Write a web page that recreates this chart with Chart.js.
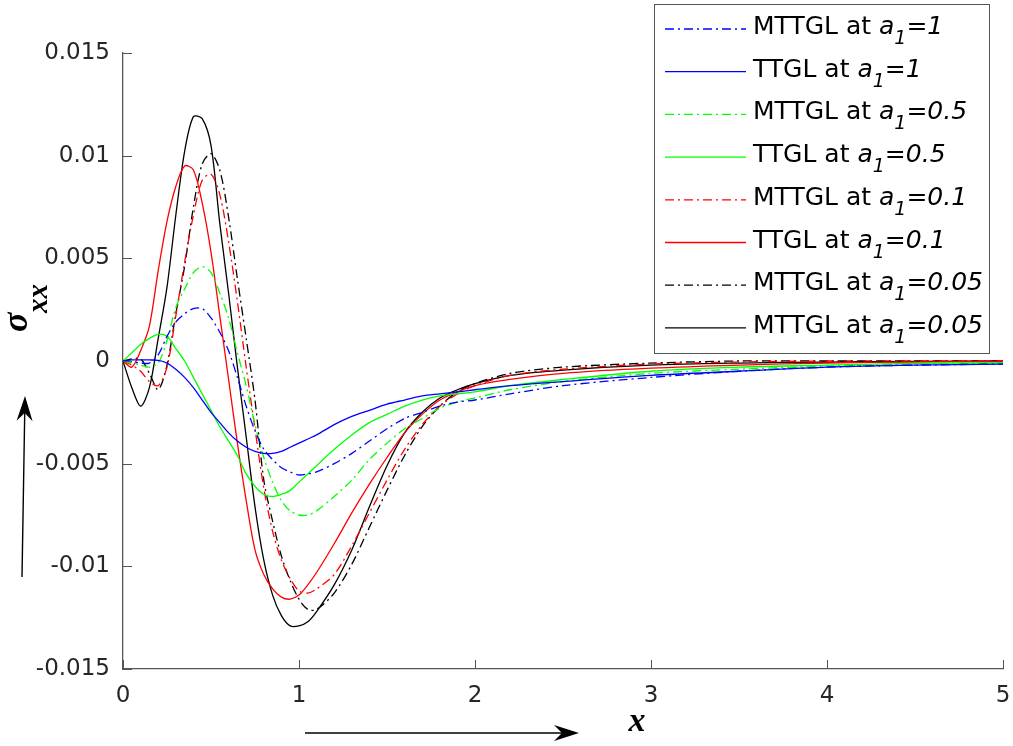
<!DOCTYPE html>
<html>
<head>
<meta charset="utf-8">
<script src="https://cdn.jsdelivr.net/npm/chart.js@4.4.0/dist/chart.umd.min.js"></script>
<style>
  html, body { margin: 0; padding: 0; background: #fff; }
  #wrap { width: 1013px; height: 746px; }
</style>
</head>
<body>
<div id="wrap"><canvas id="sigmaChart" width="1013" height="746"></canvas></div>
<script>
// x positions shared by every curve
const xs = [0, 0.05, 0.1, 0.15, 0.2, 0.25, 0.3, 0.35, 0.4, 0.45, 0.5, 0.55, 0.6, 0.65, 0.7, 0.75,
    0.8, 0.85, 0.9, 0.95, 1.0, 1.05, 1.1, 1.2, 1.3, 1.4, 1.5, 1.6, 1.7, 1.8, 1.9, 2.0, 2.2, 2.5,
    3.0, 3.5, 4.0, 4.5, 5.0];

// sigma_xx
const mttglA1_1 = [0, -0.00003, -0.0001, -0.0001, 0.0003, 0.0012, 0.0019, 0.0023, 0.00255, 0.00255,
    0.0021, 0.0014, 0.0005, -0.0008, -0.0022, -0.0034, -0.0043, -0.0048, -0.0052, -0.0054, -0.00555,
    -0.0055, -0.0054, -0.0050, -0.0045, -0.0039, -0.0033, -0.0028, -0.0025, -0.0022, -0.0020, -0.0019,
    -0.0016, -0.0012, -0.0008, -0.0005, -0.0003, -0.0002, -0.00015];
const ttglA1_1 = [0, 0.00005, 0.00005, 0.00005, 0.00003, -0.0001, -0.0004, -0.0008, -0.0013, -0.0019,
    -0.0025, -0.0030, -0.0035, -0.0039, -0.0042, -0.0044, -0.0045, -0.0045, -0.0044, -0.0042, -0.0040,
    -0.0038, -0.0036, -0.0031, -0.0027, -0.0024, -0.0021, -0.0019, -0.0017, -0.0016, -0.0015, -0.0014,
    -0.0012, -0.0010, -0.0007, -0.0005, -0.0003, -0.0002, -0.00015];
const mttglA1_05 = [0, -0.0001, -0.0002, -0.0003, -0.0001, 0.0010, 0.0026, 0.0035, 0.0043, 0.0046,
    0.0043, 0.0033, 0.0021, 0.0004, -0.0012, -0.0031, -0.0047, -0.0059, -0.0068, -0.0073, -0.0075,
    -0.0075, -0.0073, -0.0066, -0.0058, -0.0048, -0.0040, -0.0033, -0.0028, -0.0023, -0.0020, -0.0018,
    -0.0014, -0.0010, -0.0006, -0.0004, -0.00025, -0.00015, -0.0001];
const ttglA1_05 = [0, 0.0004, 0.0008, 0.0011, 0.0013, 0.0012, 0.0006, 0.0000, -0.0008, -0.0016,
    -0.0024, -0.0032, -0.0039, -0.0046, -0.0055, -0.0061, -0.0065, -0.0066, -0.0065, -0.0063, -0.0059,
    -0.0055, -0.0051, -0.0043, -0.0036, -0.0030, -0.0026, -0.0022, -0.0019, -0.0017, -0.0016, -0.0015,
    -0.0012, -0.0009, -0.0005, -0.0003, -0.0002, -0.00012, -0.00008];
const mttglA1_01 = [0, -0.0002, -0.0005, -0.0010, -0.0012, -0.0003, 0.0022, 0.0048, 0.0071, 0.0088,
    0.0091, 0.0081, 0.0058, 0.0029, -0.0003, -0.0033, -0.0062, -0.0083, -0.0097, -0.0106, -0.0112,
    -0.0113, -0.0111, -0.0104, -0.0090, -0.0074, -0.0058, -0.0043, -0.0031, -0.0022, -0.0016, -0.0012,
    -0.0007, -0.0004, -0.00015, -0.00005, 0, 0, 0];
const ttglA1_01 = [0, -0.0003, 0.0005, 0.0017, 0.0044, 0.0068, 0.0085, 0.0095, 0.0093, 0.0077,
    0.0053, 0.0022, -0.0009, -0.0040, -0.0068, -0.0092, -0.0104, -0.0111, -0.0115, -0.0116, -0.0114,
    -0.0109, -0.0103, -0.0089, -0.0074, -0.0060, -0.0047, -0.0035, -0.0026, -0.0019, -0.0015, -0.0012,
    -0.0009, -0.0006, -0.00035, -0.0002, -0.0001, -0.00005, -0.00002];
const mttglA1_005 = [0, 0.0001, 0.0001, -0.0006, -0.0014, -0.0002, 0.0023, 0.0046, 0.0075, 0.0096,
    0.0101, 0.0093, 0.0070, 0.0040, 0.0011, -0.0019, -0.0058, -0.0078, -0.0095, -0.0107, -0.0116,
    -0.0121, -0.0121, -0.0113, -0.0099, -0.0081, -0.0063, -0.0046, -0.0032, -0.0022, -0.0015, -0.0011,
    -0.0006, -0.0003, -0.0001, 0, 0, 0, 0];
const solidA1_005 = [0, -0.0013, -0.0022, -0.0013, 0.0011, 0.0036, 0.0071, 0.0102, 0.0119, 0.0118,
    0.0105, 0.0067, 0.0033, -0.0003, -0.0037, -0.0071, -0.0097, -0.0114, -0.0124, -0.0129, -0.0129,
    -0.0127, -0.0122, -0.0109, -0.0092, -0.0071, -0.0051, -0.0035, -0.0025, -0.0018, -0.0014, -0.0011,
    -0.0007, -0.00044, -0.0002, -0.0001, -0.00005, -0.00002, 0];

const seriesNames = ['MTTGL', 'TTGL', 'MTTGL', 'TTGL', 'MTTGL', 'TTGL', 'MTTGL', 'MTTGL'];
const seriesA1 = ['1', '1', '0.5', '0.5', '0.1', '0.1', '0.05', '0.05'];
const seriesValues = [mttglA1_1, ttglA1_1, mttglA1_05, ttglA1_05, mttglA1_01, ttglA1_01, mttglA1_005, solidA1_005];
const seriesColors = ['#0000ff', '#0000ff', '#00ff00', '#00ff00', '#ff0000', '#ff0000', '#000000', '#000000'];
const seriesDashed = [true, false, true, false, true, false, true, false];

const xTicks = [0, 1, 2, 3, 4, 5];
const xTickLabels = ['0', '1', '2', '3', '4', '5'];
const yTicks = [-0.015, -0.01, -0.005, 0, 0.005, 0.01, 0.015];
const yTickLabels = ['-0.015', '-0.01', '-0.005', '0', '0.005', '0.01', '0.015'];

const dashDot = [9, 4, 2, 4];
const axisColor = '#555555';
const textColor = '#262626';

function drawArrow(ctx, x1, y1, x2, y2) {
    const ang = Math.atan2(y2 - y1, x2 - x1),
        len = 25, half = 8, notch = 17;
    const bx = x2 - Math.cos(ang) * notch, by = y2 - Math.sin(ang) * notch;
    ctx.beginPath();
    ctx.moveTo(x1, y1);
    ctx.lineTo(bx, by);
    ctx.stroke();
    const cx = x2 - Math.cos(ang) * len, cy = y2 - Math.sin(ang) * len;
    ctx.beginPath();
    ctx.moveTo(x2, y2);
    ctx.lineTo(cx - Math.sin(ang) * half, cy + Math.cos(ang) * half);
    ctx.lineTo(bx, by);
    ctx.lineTo(cx + Math.sin(ang) * half, cy - Math.cos(ang) * half);
    ctx.closePath();
    ctx.fill();
}

const decorPlugin = {
    id: 'decor',
    beforeDraw(chart) {
        const ctx = chart.ctx;
        ctx.save();
        ctx.fillStyle = '#ffffff';
        ctx.fillRect(0, 0, chart.width, chart.height);
        ctx.restore();
    },
    afterDraw(chart) {
        const { ctx, chartArea, scales: { x, y } } = chart;
        ctx.save();

        // inward tick marks
        ctx.strokeStyle = axisColor;
        ctx.lineWidth = 1;
        yTicks.forEach(function (v) {
            const py = Math.round(y.getPixelForValue(v)) + 0.5;
            ctx.beginPath();
            ctx.moveTo(chartArea.left, py);
            ctx.lineTo(chartArea.left + 9, py);
            ctx.stroke();
        });
        xTicks.forEach(function (v) {
            const px = Math.round(x.getPixelForValue(v)) + 0.5;
            ctx.beginPath();
            ctx.moveTo(px, chartArea.bottom);
            ctx.lineTo(px, chartArea.bottom - 9);
            ctx.stroke();
        });

        // x tick labels
        ctx.fillStyle = textColor;
        ctx.font = '23px "DejaVu Sans"';
        ctx.textAlign = 'center';
        ctx.textBaseline = 'middle';
        xTicks.forEach(function (v, i) {
            ctx.fillText(xTickLabels[i], x.getPixelForValue(v), chartArea.bottom + 27);
        });

        // legend box
        const lx = 654, ly = 4, lw = 335, lh = 349;
        ctx.fillStyle = '#ffffff';
        ctx.fillRect(lx, ly, lw, lh);
        ctx.strokeStyle = axisColor;
        ctx.lineWidth = 1;
        ctx.strokeRect(lx + 0.5, ly + 0.5, lw, lh);

        chart.data.datasets.forEach(function (ds, i) {
            const rowY = 29 + i * 42.7;
            ctx.strokeStyle = ds.borderColor;
            ctx.lineWidth = 1.3;
            ctx.setLineDash(ds.borderDash || []);
            ctx.beginPath();
            ctx.moveTo(665, rowY);
            ctx.lineTo(746, rowY);
            ctx.stroke();
            ctx.setLineDash([]);

            ctx.fillStyle = '#000000';
            ctx.textBaseline = 'alphabetic';
            ctx.textAlign = 'left';
            let tx = 753;
            const base = rowY + 5;
            ctx.font = '25px "DejaVu Sans"';
            const head = seriesNames[i] + ' at ';
            ctx.fillText(head, tx, base);
            tx += ctx.measureText(head).width;
            ctx.font = 'italic 25px "DejaVu Sans"';
            ctx.fillText('a', tx, base);
            tx += ctx.measureText('a').width;
            ctx.font = 'italic 19px "DejaVu Sans"';
            ctx.fillText('1', tx, base + 10);
            tx += ctx.measureText('1').width;
            ctx.font = 'italic 25px "DejaVu Sans"';
            ctx.fillText('=' + seriesA1[i], tx, base);
        });

        // axis titles
        ctx.fillStyle = '#000000';
        ctx.textBaseline = 'alphabetic';
        ctx.font = 'bold italic 34px "Liberation Serif"';
        ctx.textAlign = 'center';
        ctx.fillText('x', 637, 731);

        ctx.save();
        ctx.translate(27, 332);
        ctx.rotate(-Math.PI / 2);
        ctx.textAlign = 'left';
        ctx.font = 'bold italic 36px "Liberation Serif"';
        ctx.fillText('\u03c3', 0, 0);
        ctx.font = 'bold italic 29px "Liberation Serif"';
        ctx.fillText('xx', 19, 20);
        ctx.restore();

        // arrows
        ctx.strokeStyle = '#000000';
        ctx.fillStyle = '#000000';
        ctx.lineWidth = 1.4;
        drawArrow(ctx, 305, 733, 579, 733);
        drawArrow(ctx, 22, 577, 25, 396);

        ctx.restore();
    }
};

const datasets = seriesValues.map(function (vals, i) {
    return {
        label: seriesNames[i] + ' at a1=' + seriesA1[i],
        data: xs.map(function (xv, j) { return { x: xv, y: vals[j] }; }),
        borderColor: seriesColors[i],
        borderDash: seriesDashed[i] ? dashDot : [],
        borderWidth: 1.3,
        pointRadius: 0,
        fill: false,
        tension: 0.3
    };
});

const tickFont = { family: 'DejaVu Sans', size: 23 };

new Chart(document.getElementById('sigmaChart').getContext('2d'), {
    type: 'line',
    data: { datasets: datasets },
    options: {
        responsive: false,
        animation: false,
        layout: { padding: { left: 0, right: 10, top: 53, bottom: 0 } },
        plugins: {
            legend: { display: false },
            tooltip: { enabled: false }
        },
        scales: {
            x: {
                type: 'linear',
                min: 0,
                max: 5,
                afterBuildTicks: function (scale) {
                    scale.ticks = xTicks.map(function (v) { return { value: v }; });
                },
                afterFit: function (scale) { scale.height = 77; },
                ticks: { display: false },
                grid: { display: false, drawTicks: false },
                border: { display: true, color: axisColor, width: 1.3 }
            },
            y: {
                type: 'linear',
                min: -0.015,
                max: 0.015,
                afterBuildTicks: function (scale) {
                    scale.ticks = yTicks.map(function (v) { return { value: v }; });
                },
                afterFit: function (scale) { scale.width = 123; },
                ticks: {
                    font: tickFont,
                    color: textColor,
                    padding: 13,
                    autoSkip: false,
                    callback: function (value) {
                        const idx = yTicks.findIndex(function (t) { return Math.abs(t - value) < 1e-9; });
                        return idx >= 0 ? yTickLabels[idx] : '';
                    }
                },
                grid: { display: false, drawTicks: false },
                border: { display: true, color: axisColor, width: 1.3 }
            }
        }
    },
    plugins: [decorPlugin]
});
</script>
</body>
</html>
